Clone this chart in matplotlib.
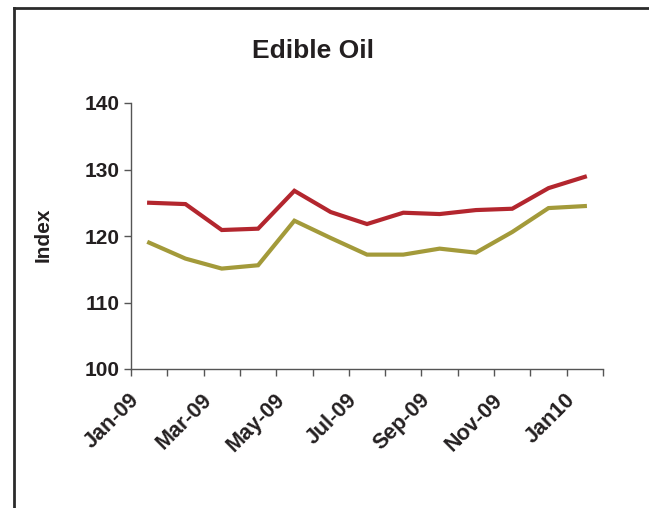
import numpy as np
import matplotlib.pyplot as plt
from matplotlib.lines import Line2D
from matplotlib.transforms import ScaledTranslation

plt.rcParams['font.family'] = ['Liberation Sans', 'DejaVu Sans']
plt.rcParams['font.weight'] = 'bold'

# monthly index, Jan-09 .. Jan-10
months = ['Jan-09', 'Feb-09', 'Mar-09', 'Apr-09', 'May-09', 'Jun-09', 'Jul-09',
          'Aug-09', 'Sep-09', 'Oct-09', 'Nov-09', 'Dec-09', 'Jan10']
red_vals = [125.0, 124.8, 120.9, 121.1, 126.8, 123.6, 121.8, 123.5, 123.3, 123.9, 124.1, 127.2, 128.9]
olive_vals = [119.0, 116.6, 115.1, 115.6, 122.3, 119.7, 117.2, 117.2, 118.1, 117.5, 120.6, 124.2, 124.5]
shown_labels = ['Jan-09', 'Mar-09', 'May-09', 'Jul-09', 'Sep-09', 'Nov-09', 'Jan10']

W, H = 649, 508
fig = plt.figure(figsize=(W / 100, H / 100), dpi=100)
ax = fig.add_axes([131 / W, 1 - 369 / H, (603 - 131) / W, (369 - 103) / H])

x = np.arange(len(months))
ax.plot(x, red_vals, color='#B3262E', lw=3.0, solid_joinstyle='miter')
ax.plot(x, olive_vals, color='#A39A3A', lw=3.0, solid_joinstyle='miter')

ax.set_xlim(-0.5, len(months) - 0.5)
ax.set_ylim(100, 140)
ax.set_yticks([100, 110, 120, 130, 140])

axcol = '#555555'
for s in ['top', 'right']:
    ax.spines[s].set_visible(False)
for s in ['left', 'bottom']:
    ax.spines[s].set_color(axcol)
    ax.spines[s].set_linewidth(1.0)

ax.set_xticks(np.arange(-0.5, len(months), 1.0))
ax.set_xticklabels([])
ax.tick_params(axis='x', direction='out', length=5, color=axcol, width=1)
ax.tick_params(axis='y', direction='out', length=5, color=axcol, width=1,
               labelsize=15, labelcolor='#231F20', pad=3)
for t in ax.get_yticklabels():
    t.set_fontweight('bold')

# rotated category labels, every other month
off = ScaledTranslation(-0.13, -0.28, fig.dpi_scale_trans)
for i, m in enumerate(months):
    if m in shown_labels:
        ax.text(i, 0, m, transform=ax.get_xaxis_transform() + off,
                rotation=45, rotation_mode='anchor', ha='right', va='center',
                fontsize=15.5, fontweight='bold', color='#231F20')

fig.text(313 / W, 1 - 51 / H, 'Edible Oil', ha='center', va='center',
         fontsize=19, fontweight='bold', color='#231F20')
fig.text(43 / W, 1 - 235 / H, 'Index', ha='center', va='center', rotation=90,
         fontsize=15, fontweight='bold', color='#231F20')

# outer frame (top and left edges visible)
fig.add_artist(Line2D([13.5 / W, 1], [1 - 8 / H, 1 - 8 / H], color='#2b2b2b', lw=2,
                      transform=fig.transFigure))
fig.add_artist(Line2D([13.5 / W, 13.5 / W], [0, 1 - 8 / H], color='#2b2b2b', lw=2,
                      transform=fig.transFigure))

fig.savefig('out.png', dpi=100)
